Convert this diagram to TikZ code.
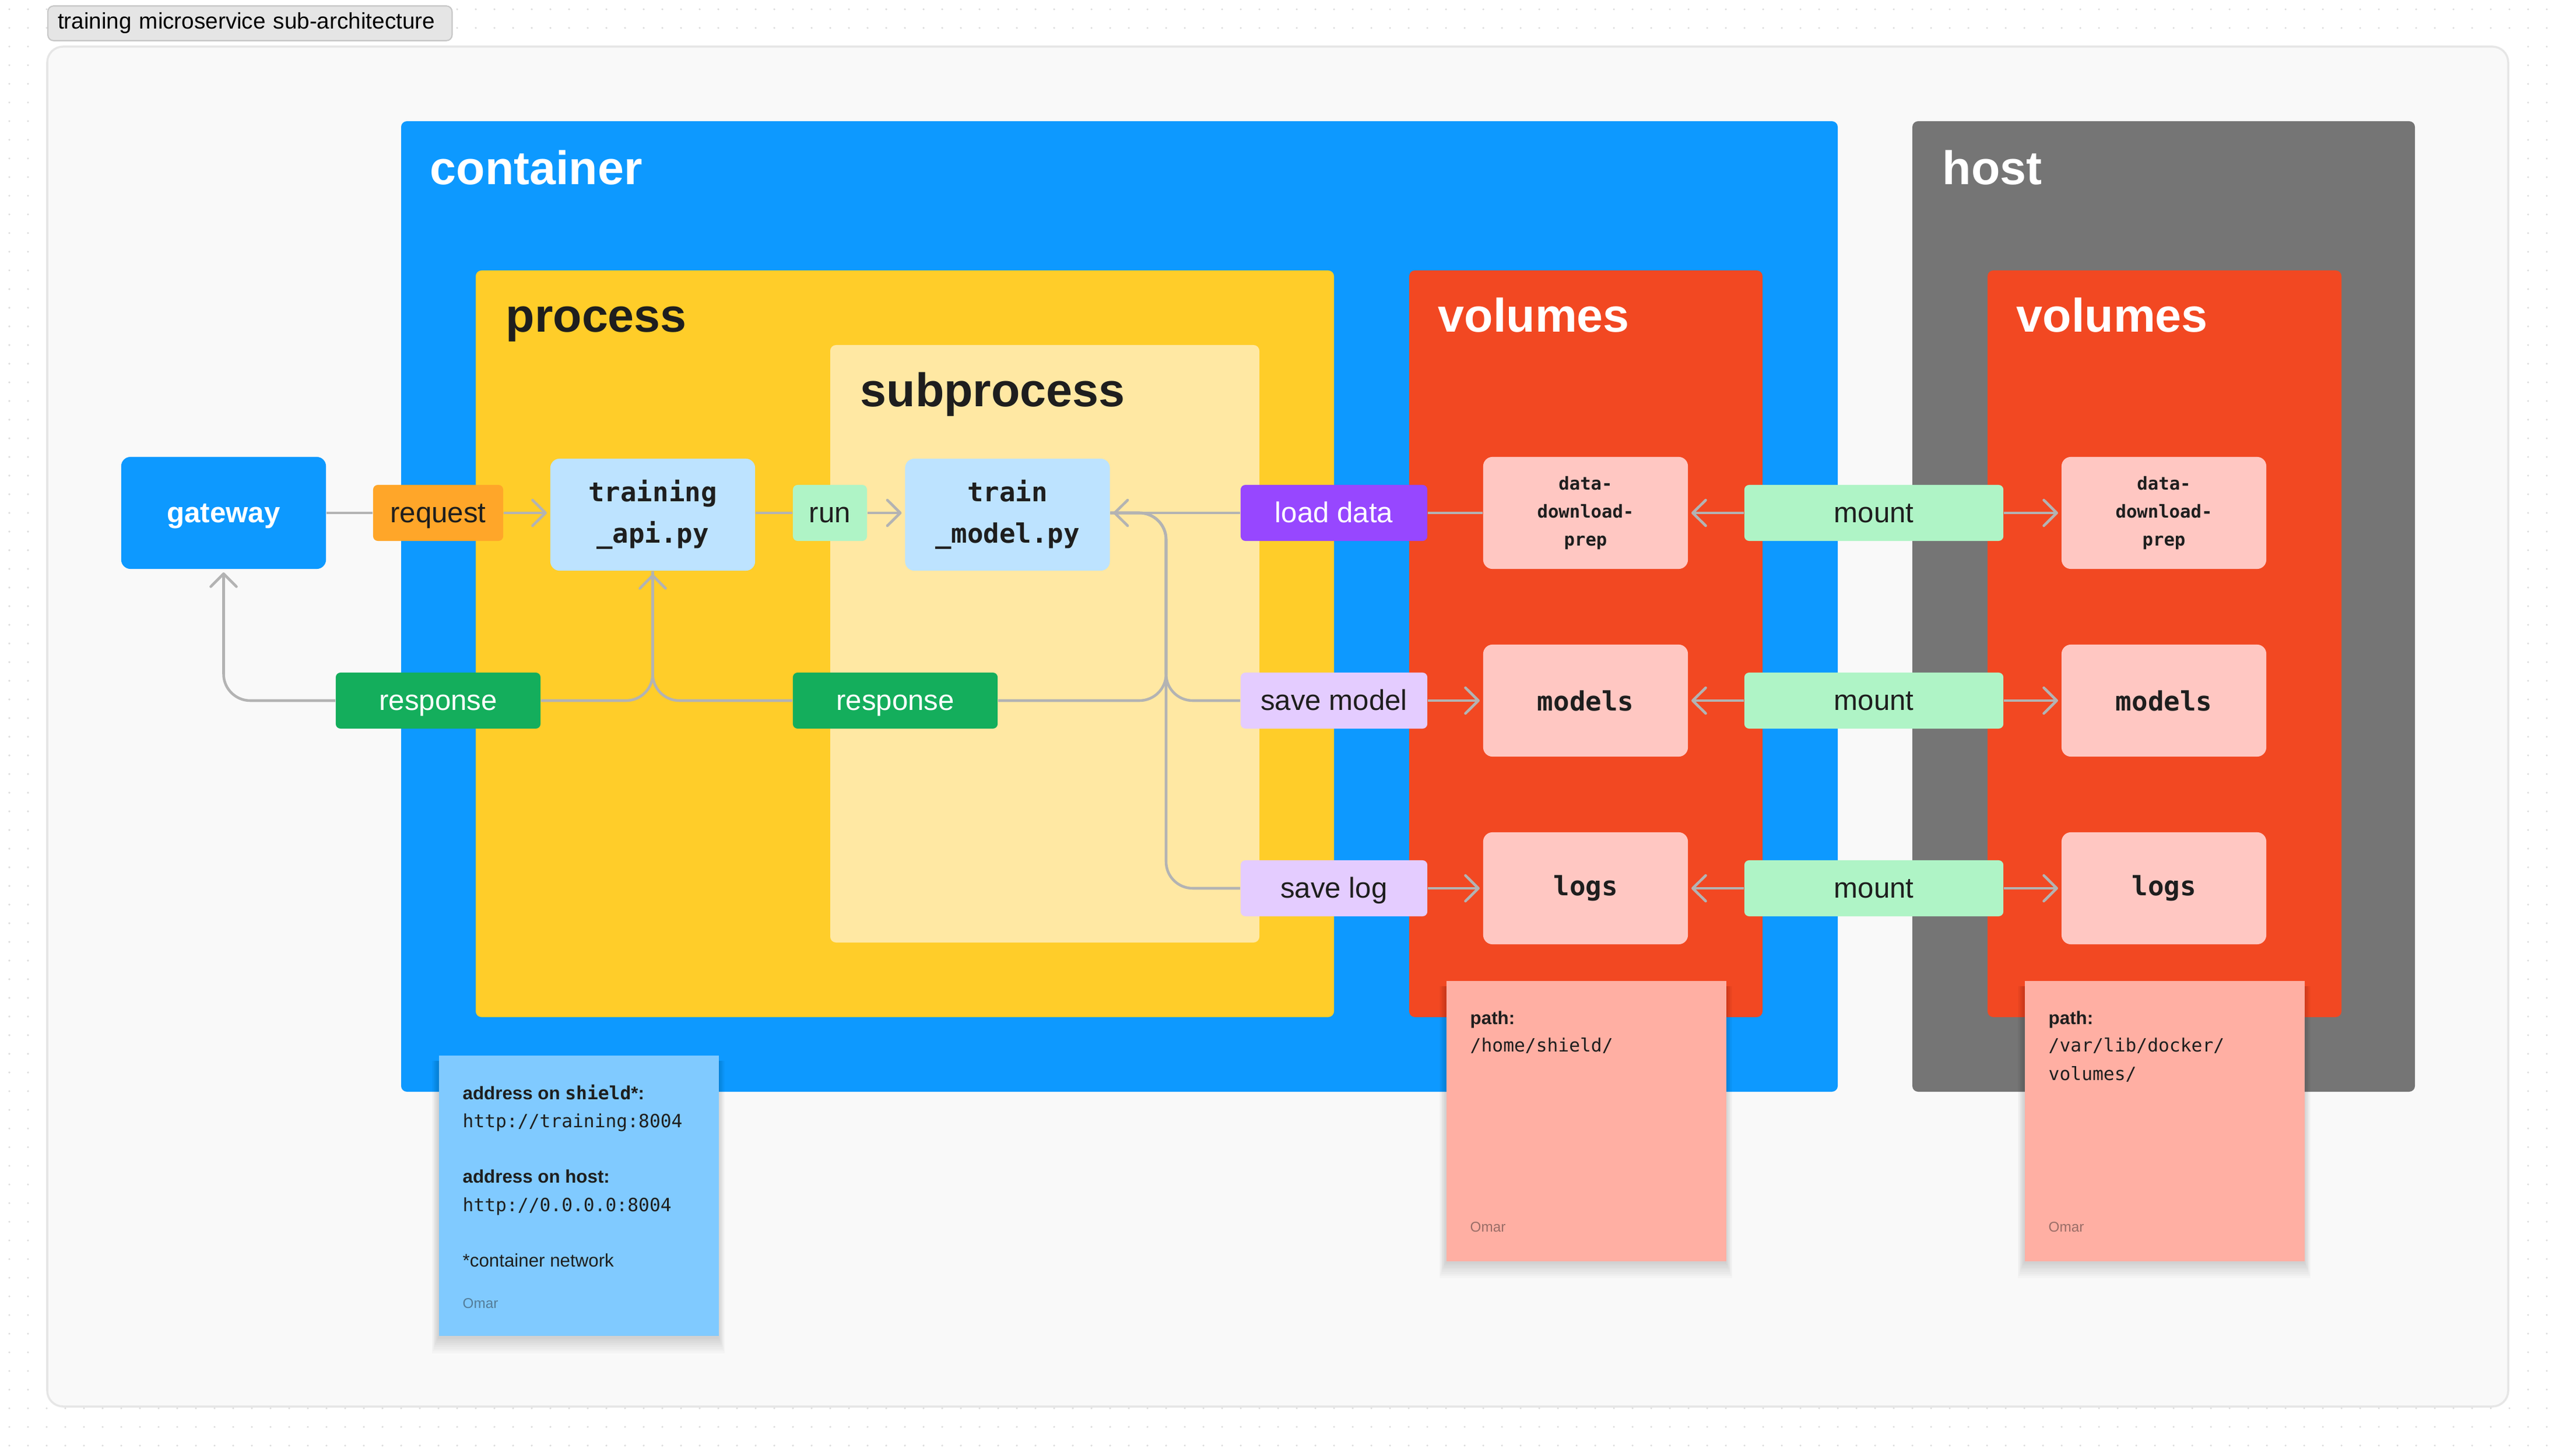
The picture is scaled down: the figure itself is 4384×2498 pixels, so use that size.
\documentclass[tikz,border=0pt]{standalone}
\usepackage{fontspec}
\setmainfont{Liberation Sans}
\setsansfont{Liberation Sans}
\setmonofont{DejaVu Sans Mono}
\usepackage{tikz}
\usetikzlibrary{arrows.meta,positioning}
\usepackage{xcolor}
\definecolor{figblue}{HTML}{0D99FF}
\definecolor{figgray}{HTML}{757575}
\definecolor{figyellow}{HTML}{FFCD29}
\definecolor{figpale}{HTML}{FFE8A3}
\definecolor{figred}{HTML}{F24822}
\definecolor{figpink}{HTML}{FFC7C2}
\definecolor{figgreen}{HTML}{14AE5C}
\definecolor{figmint}{HTML}{AFF4C6}
\definecolor{figviolet}{HTML}{9747FF}
\definecolor{figlilac}{HTML}{E4CCFF}
\definecolor{figorange}{HTML}{FFA629}
\definecolor{figsky}{HTML}{BDE3FF}
\definecolor{notesky}{HTML}{80CAFF}
\definecolor{notepink}{HTML}{FFAFA3}
\definecolor{ink}{HTML}{1E1E1E}
\definecolor{wire}{HTML}{B3B3B3}
\definecolor{paper}{HTML}{F9F9F9}
\definecolor{rim}{HTML}{E6E6E6}
\definecolor{griddot}{HTML}{DCDCDC}

\begin{document}
\begin{tikzpicture}[x=0.01cm, y=-0.01cm,
    box/.style={rounded corners=4.5pt, minimum width=3.51cm, minimum height=1.92cm,
                align=center, inner sep=0pt},
    codebox/.style={box, text=ink, font=\ttfamily\bfseries\fontsize{13}{20.2}\selectfont},
    tag/.style={rounded corners=2.3pt, minimum height=0.96cm, inner sep=0pt, text=ink,
                text height=11pt, text depth=1.8pt, font=\fontsize{14}{17}\selectfont},
    zonetitle/.style={anchor=base west, inner sep=0pt, font=\bfseries\fontsize{23}{27}\selectfont},
    note/.style={minimum width=4.8cm, minimum height=4.81cm, anchor=north west, inner sep=0pt},
    notetext/.style={anchor=base west, inner sep=0pt, text=ink, font=\fontsize{8.9}{13.7}\selectfont},
    signed/.style={anchor=base west, inner sep=0pt, text=ink, text opacity=0.45,
                   font=\fontsize{6.9}{8}\selectfont},
    wireline/.style={draw=wire, line width=1.3pt},
    arrow/.style={wireline, -{Straight Barb[length=6.3pt, width=12.5pt, round]}, shorten >=1.5pt}
  ]
    \useasboundingbox (0,0) rectangle (4384,2498);

    % Dot grid round the board
    \foreach \x in {16,48,...,4368} {
      \foreach \y in {16,48,2416,2448,2480}
        \fill[griddot] (\x,\y) circle[radius=0.5pt];
    }
    \foreach \y in {80,112,...,2400} {
      \foreach \x in {16,48,4336,4368}
        \fill[griddot] (\x,\y) circle[radius=0.5pt];
    }

    % Board and its tab
    \filldraw[fill=paper, draw=rim, line width=1pt, rounded corners=7.7pt] (81,80) rectangle (4302,2413);
    \node[anchor=west, draw=black!22, fill=black!10, line width=0.6pt, rounded corners=2.8pt,
          minimum height=0.54cm, text width=6.59cm, inner xsep=0.17cm, align=left,
          font=\fontsize{11}{13}\selectfont] (tab) at (81,40) {training microservice sub-architecture};

    % Container and host
    \fill[figblue, rounded corners=2.8pt] (688,208) rectangle (3152,1873);
    \fill[figgray, rounded corners=2.8pt] (3280,208) rectangle (4142,1873);
    \node[zonetitle, text=white] (containertitle) at (737,317) {container};
    \node[zonetitle, text=white] (hosttitle) at (3331,317) {host};

    % Process, subprocess and volumes
    \fill[figyellow, rounded corners=2.8pt] (816,464) rectangle (2288,1745);
    \fill[figpale, rounded corners=2.8pt] (1424,592) rectangle (2160,1617);
    \fill[figred, rounded corners=2.8pt] (2417,464) rectangle (3023,1745);
    \fill[figred, rounded corners=2.8pt] (3409,464) rectangle (4016,1745);
    \node[zonetitle, text=ink] (processtitle) at (867,570) {process};
    \node[zonetitle, text=ink] (subtitle) at (1475,698) {subprocess};
    \node[zonetitle, text=white] (voltitle) at (2466,570) {volumes};
    \node[zonetitle, text=white] (hvoltitle) at (3458,570) {volumes};

    % Services
    \node[box, fill=figblue, text=white, text height=11pt, text depth=1.8pt,
          font=\bfseries\fontsize{14}{17}\selectfont] (gateway) at (383.5,880) {gateway};
    \node[codebox, fill=figsky] (trainapi) at (1119.5,883) {training\\\_api.py};
    \node[codebox, fill=figsky] (trainmodel) at (1728,883) {train\\\_model.py};

    % Volumes in the container
    \node[codebox, fill=figpink, font=\ttfamily\bfseries\fontsize{8.7}{13.7}\selectfont]
      (ddp) at (2719.5,880) {data-\\download-\\prep};
    \node[codebox, fill=figpink] (models) at (2719.5,1202) {models};
    \node[codebox, fill=figpink] (logs) at (2719.5,1524) {logs};

    % Volumes on the host
    \node[codebox, fill=figpink, font=\ttfamily\bfseries\fontsize{8.7}{13.7}\selectfont]
      (hddp) at (3711.5,880) {data-\\download-\\prep};
    \node[codebox, fill=figpink] (hmodels) at (3711.5,1202) {models};
    \node[codebox, fill=figpink] (hlogs) at (3711.5,1524) {logs};

    % Labels
    \node[tag, fill=figorange, minimum width=2.23cm] (request) at (751.5,880) {request};
    \node[tag, fill=figmint, minimum width=1.27cm] (run) at (1423.5,880) {run};
    \node[tag, fill=figviolet, text=white, minimum width=3.2cm] (loaddata) at (2288,880) {load data};
    \node[tag, fill=figlilac, minimum width=3.2cm] (savemodel) at (2288,1202) {save model};
    \node[tag, fill=figlilac, minimum width=3.2cm] (savelog) at (2288,1524) {save log};
    \node[tag, fill=figgreen, text=white, minimum width=3.51cm] (respA) at (751.5,1202) {response};
    \node[tag, fill=figgreen, text=white, minimum width=3.51cm] (respB) at (1535.5,1202) {response};
    \coordinate (bus) at (2000,880);

    % Arrows
    \draw[wireline] (gateway) -- (request);
    \draw[arrow] (request) -- (trainapi.west |- request);
    \draw[wireline] (trainapi.east |- run) -- (run);
    \draw[arrow] (run) -- (trainmodel.west |- run);
    \draw[wireline] (ddp) -- (loaddata);
    \draw[arrow] (loaddata) -- (trainmodel.east |- loaddata);
    \draw[wireline, rounded corners=13pt] (trainmodel.east |- bus) -- (bus) |- (savemodel.west);
    \draw[wireline, rounded corners=13pt] (trainmodel.east |- bus) -- (bus) |- (savelog.west);
    \draw[wireline, rounded corners=13pt] (trainmodel.east |- bus) -- (bus) |- (respB.east);
    \draw[arrow] (savemodel) -- (models);
    \draw[arrow] (savelog) -- (logs);
    \draw[arrow, rounded corners=13pt] (respB.west) -| (trainapi.south);
    \draw[wireline, rounded corners=13pt] (trainapi.south) |- (respA.east);
    \draw[arrow, rounded corners=13pt] (respA.west) -| (gateway.south);
    \foreach \v/\y in {ddp/880,models/1202,logs/1524} {
      \node[tag, fill=figmint, minimum width=4.44cm] (mount\v) at (3214,\y) {mount};
      \draw[arrow] (mount\v) -- (\v);
      \draw[arrow] (mount\v) -- (h\v);
    }

    % Sticky notes, soft shadow first
    \foreach \a/\b/\c/\d in {752/1810/1232/2291, 2480/1682/2960/2162, 3472/1682/3952/2162} {
      \foreach \i in {1,...,8}
        \fill[black, opacity=0.018] (\a-1.4*\i,\b+10) rectangle (\c+1.4*\i,\d+2+3.6*\i);
    }
    \node[note, fill=notesky] (netnote) at (752,1810) {};
    \node[notetext] (netA) at (793,1886) {\bfseries address on {\ttfamily shield}*:};
    \node[notetext] (netB) at (793,1934) {\ttfamily http://training:8004};
    \node[notetext] (netC) at (793,2029) {\bfseries address on host:};
    \node[notetext] (netD) at (793,2078) {\ttfamily http://0.0.0.0:8004};
    \node[notetext] (netE) at (793,2173) {*container network};
    \node[signed] (netsign) at (793,2244) {Omar};

    \node[note, fill=notepink] (volnote) at (2480,1682) {};
    \node[notetext] (volA) at (2521,1757) {\bfseries path:};
    \node[notetext] (volB) at (2521,1804) {\ttfamily /home/shield/};
    \node[signed] (volsign) at (2521,2113) {Omar};

    \node[note, fill=notepink] (hvolnote) at (3472,1682) {};
    \node[notetext] (hvolA) at (3513,1757) {\bfseries path:};
    \node[notetext] (hvolB) at (3513,1804) {\ttfamily /var/lib/docker/};
    \node[notetext] (hvolC) at (3513,1853) {\ttfamily volumes/};
    \node[signed] (hvolsign) at (3513,2113) {Omar};
  \end{tikzpicture}
\end{document}
